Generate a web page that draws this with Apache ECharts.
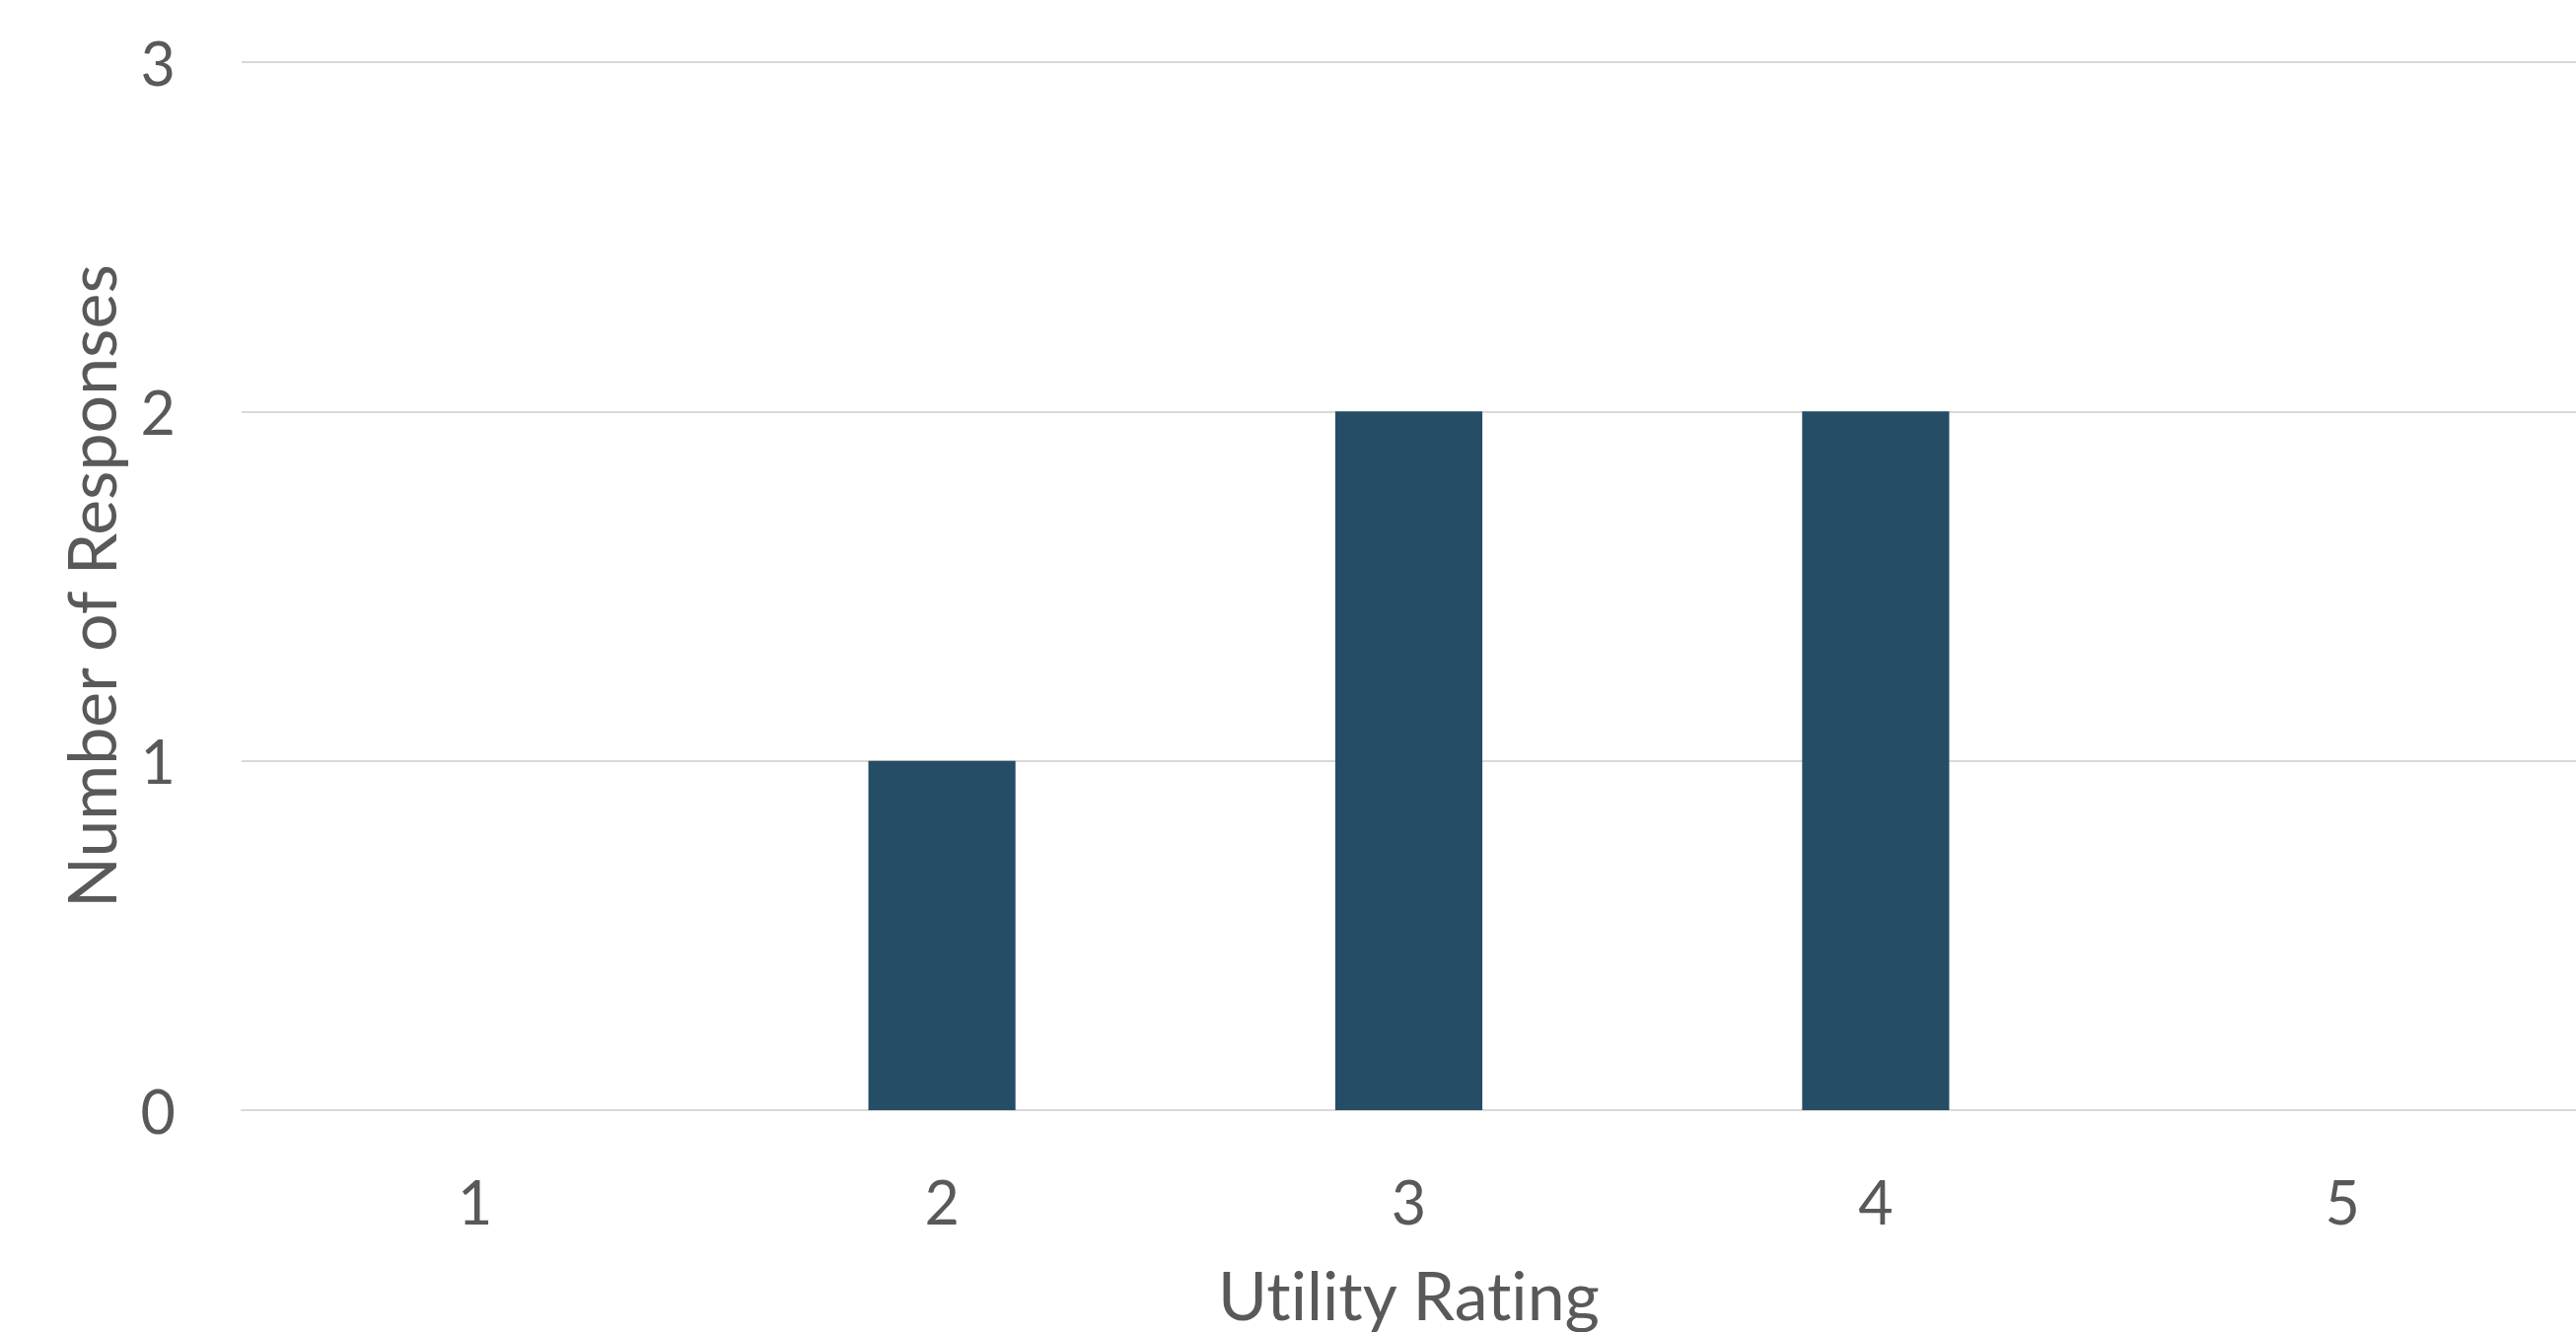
<!DOCTYPE html>
<html>
<head>
<meta charset="utf-8">
<script src="https://cdn.jsdelivr.net/npm/echarts@6/dist/echarts.min.js"></script>
<style>
  html, body { margin: 0; padding: 0; background: #ffffff; }
  #chart { width: 2612px; height: 1351px; }
  /* keep "ti" / "fi" as separate letters in axis titles */
  #chart text { font-variant-ligatures: none; font-feature-settings: "liga" 0, "clig" 0; }
</style>
</head>
<body>
<div id="chart"></div>
<script>
// Survey results: how many responses each utility rating received
const ratings = ['1', '2', '3', '4', '5'];
const responseCounts = [0, 1, 2, 2, 0];
const yTicks = { min: 0, max: 3, interval: 1 };

const textColor = '#595959';
const gridColor = '#d9d9d9';
const barColor = '#254d66';
const fontFamily = 'Lato, "Open Sans", sans-serif';

const chart = echarts.init(document.getElementById('chart'), null, { renderer: 'svg' });

chart.setOption({
  animation: false,
  backgroundColor: '#ffffff',
  grid: { left: 245, right: 0, top: 63, bottom: 214, containLabel: false },
  xAxis: {
    type: 'category',
    data: ratings,
    name: 'Utility Rating',
    nameLocation: 'middle',
    nameGap: 152,
    nameTextStyle: { color: textColor, fontFamily: fontFamily, fontSize: 68 },
    axisLine: { show: true, lineStyle: { color: gridColor, width: 2 } },
    axisTick: { show: false },
    axisLabel: { color: textColor, fontFamily: fontFamily, fontSize: 61, margin: 62 },
    splitLine: { show: false }
  },
  yAxis: {
    type: 'value',
    min: yTicks.min,
    max: yTicks.max,
    interval: yTicks.interval,
    name: 'Number of Responses',
    nameLocation: 'middle',
    nameGap: 120,
    nameTextStyle: { color: textColor, fontFamily: fontFamily, fontSize: 68 },
    axisLine: { show: false },
    axisTick: { show: false },
    axisLabel: { color: textColor, fontFamily: fontFamily, fontSize: 61, margin: 67 },
    splitLine: { show: true, lineStyle: { color: gridColor, width: 2 } }
  },
  series: [{
    type: 'bar',
    data: responseCounts,
    barWidth: '31.5%',
    itemStyle: { color: barColor },
    emphasis: { disabled: true }
  }]
});
</script>
</body>
</html>
